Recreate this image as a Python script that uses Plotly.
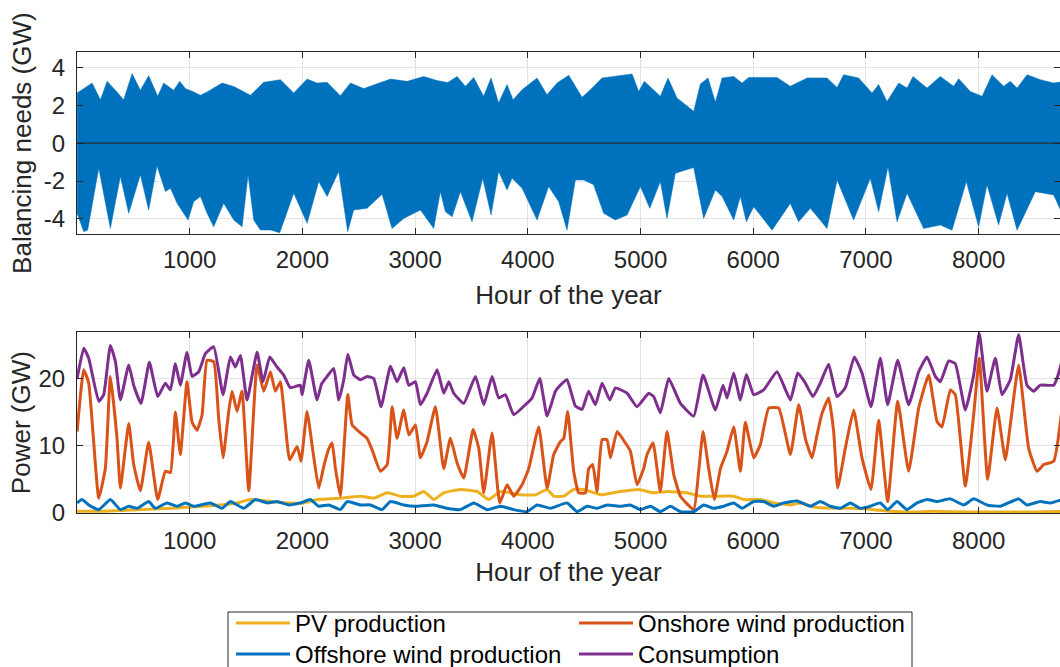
import plotly.graph_objects as go

# ---------------- Balancing needs: envelope of the hourly signal (GW) ----------------
bal_up_h = [1, 134, 208, 267, 341, 414, 489, 562, 636, 716, 769, 858, 911, 962, 1036, 1095, 1154,
            1287, 1391, 1539, 1657, 1805, 1923, 2042, 2130, 2219, 2337, 2426, 2544, 2692, 2781,
            2929, 3076, 3195, 3290, 3372, 3446, 3520, 3608, 3674, 3741, 3816, 3869, 3949, 4082,
            4170, 4259, 4363, 4481, 4555, 4659, 4762, 4925, 4984, 5034, 5176, 5244, 5324, 5472,
            5531, 5599, 5664, 5724, 5827, 5901, 5960, 6093, 6211, 6329, 6478, 6655, 6744, 6802,
            6935, 7054, 7113, 7187, 7291, 7365, 7418, 7542, 7660, 7778, 7823, 7926, 8031, 8119,
            8222, 8281, 8341, 8430, 8548, 8666, 8760]
bal_up = [2.65, 3.17, 2.29, 3.26, 2.79, 2.29, 3.67, 2.79, 3.56, 2.47, 3.17, 2.79, 3.26, 2.88, 2.70,
          2.53, 2.70, 3.17, 2.99, 2.53, 3.21, 3.35, 2.65, 3.38, 3.17, 3.21, 2.50, 3.17, 2.88, 3.17,
          3.38, 3.26, 3.52, 3.30, 3.20, 3.52, 3.00, 3.47, 2.47, 3.44, 2.12, 3.09, 2.29, 2.82, 3.44,
          2.56, 3.17, 3.58, 2.42, 2.82, 3.44, 3.52, 3.65, 2.73, 3.26, 2.47, 3.44, 2.38, 1.68, 3.12,
          3.44, 2.17, 3.44, 3.52, 3.17, 3.47, 3.47, 3.47, 3.00, 3.44, 3.44, 2.94, 3.61, 3.44, 2.65,
          3.09, 2.20, 3.17, 2.91, 3.52, 2.91, 3.52, 3.00, 3.40, 2.73, 2.47, 3.61, 3.00, 3.26, 2.91,
          3.61, 3.35, 3.17, 3.26]
bal_lo_h = [1, 60, 95, 193, 296, 385, 459, 562, 636, 710, 784, 829, 888, 985, 1036, 1095, 1154,
            1213, 1302, 1391, 1465, 1518, 1568, 1627, 1716, 1799, 1923, 2042, 2145, 2219, 2322,
            2402, 2455, 2574, 2707, 2795, 2899, 3047, 3165, 3224, 3269, 3328, 3402, 3505, 3600,
            3674, 3741, 3816, 3860, 3949, 4082, 4185, 4274, 4348, 4422, 4496, 4584, 4673, 4777,
            4881, 4999, 5082, 5176, 5235, 5309, 5472, 5560, 5664, 5724, 5827, 5886, 5939, 6004,
            6167, 6329, 6403, 6507, 6655, 6744, 6891, 7039, 7113, 7196, 7276, 7365, 7512, 7660,
            7764, 7891, 8000, 8074, 8177, 8252, 8341, 8503, 8666, 8760]
bal_lo = [-3.70, -4.67, -4.58, -1.32, -4.50, -1.76, -3.70, -1.67, -3.53, -1.20, -2.55, -2.38, -3.17,
          -4.06, -3.08, -2.82, -3.70, -4.41, -3.17, -4.06, -4.41, -1.67, -4.06, -4.58, -4.58, -4.73,
          -2.64, -4.23, -2.02, -2.82, -1.49, -4.67, -3.53, -3.44, -2.69, -4.50, -3.97, -3.53, -4.50,
          -2.56, -3.62, -3.88, -2.56, -4.15, -1.85, -3.79, -1.50, -2.47, -1.85, -2.38, -4.06, -2.29,
          -3.09, -4.59, -1.94, -1.94, -2.20, -3.70, -4.06, -3.79, -2.29, -3.44, -2.03, -3.97, -1.59,
          -1.29, -3.97, -2.47, -2.82, -4.06, -2.82, -4.15, -3.35, -4.59, -3.18, -4.15, -3.44, -4.50,
          -1.94, -4.06, -1.85, -3.62, -1.24, -4.15, -2.65, -4.50, -4.32, -4.59, -2.03, -4.41, -2.20,
          -4.32, -2.65, -4.59, -2.56, -2.73, -3.97]

# ---------------- Power time series (GW) ----------------
cons_h = [1, 60, 104, 193, 237, 296, 341, 385, 459, 503, 568, 642, 716, 784, 829, 873, 917, 976,
          1021, 1080, 1139, 1213, 1296, 1361, 1405, 1450, 1509, 1598, 1651, 1710, 1775, 1834, 1893,
          1982, 1997, 2056, 2130, 2170, 2219, 2278, 2323, 2367, 2403, 2456, 2515, 2574, 2633, 2698,
          2781, 2840, 2899, 2944, 3003, 3047, 3106, 3195, 3254, 3299, 3343, 3432, 3535, 3609, 3683,
          3742, 3801, 3875, 3979, 4038, 4106, 4171, 4245, 4289, 4348, 4422, 4481, 4540, 4600, 4659,
          4727, 4777, 4881, 4969, 5073, 5117, 5176, 5250, 5354, 5472, 5555, 5664, 5732, 5768, 5827,
          5886, 5939, 6004, 6093, 6211, 6330, 6395, 6463, 6530, 6595, 6669, 6743, 6817, 6897, 6965,
          7045, 7128, 7193, 7282, 7379, 7468, 7542, 7616, 7660, 7734, 7793, 7882, 7956, 8006, 8074,
          8148, 8207, 8281, 8355, 8429, 8488, 8547, 8666, 8695, 8760]
cons = [20.0, 24.5, 23.0, 16.6, 17.6, 24.9, 22.5, 16.8, 22.0, 19.0, 16.3, 22.4, 17.3, 19.3, 18.3,
        22.2, 19.0, 23.9, 20.3, 21.0, 23.7, 24.7, 17.6, 23.2, 21.7, 23.4, 16.8, 23.9, 19.5, 23.2,
        21.7, 20.5, 18.6, 19.0, 17.6, 22.7, 16.8, 19.2, 20.3, 21.5, 16.8, 19.8, 23.6, 20.5, 19.8,
        20.3, 20.0, 15.8, 21.8, 19.5, 21.6, 19.0, 19.5, 16.1, 17.8, 21.3, 17.8, 19.5, 17.8, 16.3,
        20.3, 16.1, 20.3, 17.1, 17.6, 14.6, 16.1, 17.1, 20.0, 14.4, 18.1, 19.0, 19.8, 15.9, 15.4,
        18.1, 16.1, 19.3, 16.8, 18.6, 17.8, 15.8, 17.8, 17.3, 14.9, 20.0, 16.3, 14.4, 20.5, 15.3,
        19.0, 17.1, 20.8, 16.8, 20.6, 17.6, 18.3, 21.0, 16.8, 20.8, 19.3, 17.3, 19.3, 22.1, 17.3,
        18.6, 23.2, 20.8, 15.8, 23.0, 16.1, 22.7, 16.1, 21.0, 23.2, 20.3, 19.5, 22.6, 22.2, 15.3,
        20.5, 26.7, 18.1, 23.0, 17.6, 19.8, 26.5, 19.0, 18.1, 19.0, 19.0, 20.0, 23.8]

onshore_h = [1, 60, 104, 193, 252, 296, 355, 385, 459, 503, 562, 636, 716, 784, 829, 873, 917, 976,
             1021, 1065, 1110, 1154, 1213, 1257, 1296, 1346, 1376, 1420, 1464, 1524, 1598, 1657,
             1716, 1760, 1805, 1887, 1953, 1988, 2041, 2094, 2145, 2189, 2233, 2264, 2293, 2337,
             2367, 2403, 2441, 2515, 2574, 2618, 2692, 2752, 2796, 2840, 2899, 2944, 3003, 3047,
             3106, 3180, 3254, 3313, 3373, 3432, 3515, 3565, 3609, 3683, 3751, 3816, 3875, 3949,
             4008, 4097, 4171, 4230, 4289, 4319, 4354, 4407, 4452, 4511, 4540, 4576, 4614, 4659,
             4703, 4733, 4792, 4866, 4910, 4969, 5028, 5058, 5111, 5176, 5235, 5295, 5354, 5472,
             5516, 5555, 5605, 5655, 5709, 5768, 5827, 5886, 5930, 6004, 6064, 6137, 6226, 6330,
             6404, 6462, 6522, 6566, 6610, 6669, 6714, 6749, 6817, 6891, 6965, 7045, 7113, 7193,
             7282, 7379, 7468, 7557, 7631, 7675, 7749, 7793, 7882, 7956, 8006, 8080, 8163, 8237,
             8281, 8355, 8444, 8518, 8577, 8666, 8760]
onshore = [12.1, 21.3, 19.3, 2.2, 6.7, 20.3, 11.1, 3.7, 13.3, 7.2, 3.3, 10.5, 2.0, 6.2, 6.0, 15.0,
           8.7, 19.5, 13.5, 12.3, 14.6, 22.7, 22.5, 14.1, 8.2, 15.1, 18.1, 15.1, 18.1, 3.3, 22.0,
           18.1, 21.0, 18.1, 19.5, 7.9, 9.9, 7.7, 15.1, 9.1, 3.7, 6.9, 9.5, 10.4, 6.6, 2.5, 9.2,
           17.6, 13.1, 11.9, 11.1, 9.4, 6.2, 7.2, 15.8, 11.1, 15.3, 11.6, 13.1, 8.2, 10.6, 15.8,
           6.6, 11.1, 7.4, 5.2, 12.4, 9.6, 3.0, 11.9, 1.5, 4.2, 2.5, 4.2, 6.6, 12.8, 3.7, 8.7,
           10.6, 11.1, 15.1, 6.2, 3.0, 3.0, 6.6, 7.2, 3.2, 10.9, 10.9, 8.2, 12.1, 10.4, 9.2, 4.2,
           6.6, 8.7, 10.4, 3.2, 12.1, 5.7, 2.5, 0.5, 6.2, 12.1, 6.6, 2.0, 6.6, 9.2, 12.8, 6.2, 13.5,
           8.2, 10.2, 15.6, 15.6, 8.7, 16.1, 11.1, 8.2, 11.6, 14.8, 17.1, 12.1, 3.7, 9.6, 15.3, 8.2,
           3.5, 13.8, 1.7, 16.6, 6.2, 15.6, 20.5, 13.6, 12.8, 18.3, 17.6, 4.0, 14.6, 23.0, 5.0, 15.6,
           7.9, 13.1, 22.0, 9.6, 6.2, 7.2, 7.7, 18.5]

offshore_h = [1, 44, 104, 193, 296, 385, 459, 533, 636, 695, 799, 888, 962, 1036, 1183, 1287, 1361,
              1479, 1583, 1687, 1775, 1878, 1982, 2071, 2144, 2233, 2337, 2397, 2515, 2604, 2707,
              2781, 2899, 3003, 3166, 3284, 3402, 3520, 3639, 3757, 3875, 3994, 4082, 4201, 4348,
              4437, 4526, 4614, 4703, 4821, 4910, 4999, 5088, 5176, 5265, 5354, 5472, 5561, 5649,
              5738, 5827, 5901, 6004, 6093, 6182, 6270, 6389, 6507, 6595, 6684, 6773, 6862, 6950,
              7039, 7128, 7193, 7276, 7364, 7453, 7542, 7631, 7749, 7867, 7956, 8074, 8192, 8355,
              8429, 8547, 8636, 8760]
offshore = [1.5, 2.0, 1.2, 0.5, 2.0, 0.5, 1.0, 0.7, 1.7, 0.7, 1.5, 1.0, 1.5, 1.0, 1.5, 0.7, 1.7,
            0.7, 2.0, 1.5, 1.7, 1.2, 1.5, 2.0, 1.0, 1.2, 0.5, 1.7, 1.2, 1.2, 0.5, 1.7, 1.2, 1.0,
            1.2, 0.7, 0.5, 1.5, 0.5, 1.0, 0.5, 0.2, 1.2, 0.7, 1.5, 0.2, 1.0, 0.7, 1.2, 1.0, 1.2,
            0.5, 1.0, 0.2, 1.0, 0.2, 0.2, 1.2, 0.7, 1.0, 1.5, 0.7, 1.7, 1.7, 1.0, 1.5, 1.8, 1.0,
            1.7, 1.0, 0.7, 1.5, 0.7, 1.0, 1.5, 0.5, 1.7, 0.5, 1.5, 2.0, 1.7, 2.1, 1.2, 2.1, 1.2,
            1.0, 2.1, 1.2, 1.7, 1.5, 2.1]

pv_h = [1, 237, 533, 829, 1124, 1420, 1539, 1716, 1864, 2012, 2130, 2248, 2337, 2515, 2633, 2752,
        2870, 2988, 3077, 3166, 3254, 3402, 3550, 3654, 3757, 3935, 4068, 4171, 4230, 4320, 4407,
        4496, 4644, 4821, 4984, 5117, 5235, 5413, 5531, 5679, 5827, 5916, 6064, 6182, 6330, 6418,
        6536, 6714, 6891, 7069, 7217, 7394, 7601, 7897, 8192, 8488, 8760]
pv = [0.25, 0.25, 0.5, 0.7, 1.0, 1.5, 2.0, 1.7, 1.5, 1.5, 2.0, 2.1, 2.2, 2.5, 2.2, 3.0, 2.5, 2.5,
      3.2, 2.0, 3.0, 3.5, 3.2, 2.0, 3.2, 2.7, 2.7, 3.5, 2.5, 2.5, 3.5, 3.5, 2.7, 3.2, 3.5, 3.0,
      3.2, 3.0, 2.5, 2.5, 2.5, 2.0, 2.0, 1.5, 1.2, 1.5, 0.9, 0.7, 0.7, 0.5, 0.25, 0.15, 0.25, 0.15,
      0.15, 0.15, 0.25]

x_ticks = [1000, 2000, 3000, 4000, 5000, 6000, 7000, 8000]
bal_ticks = [-4, -2, 0, 2, 4]
bal_ticktext = ["-4", "-2", "0", "2", "4"]
pow_ticks = [0, 10, 20]

BLUE = "#0072BD"
ORANGE = "#D95319"
YELLOW = "#EDB120"
PURPLE = "#7E2F8E"
AX = "#262626"
GRID = "#e3e3e3"
FONT = "Liberation Sans, Arial, sans-serif"

fig = go.Figure()

# top panel: filled envelope
fig.add_trace(go.Scatter(x=bal_up_h, y=bal_up, mode="lines", line=dict(width=0.5, color=BLUE),
                         fill="tozeroy", fillcolor=BLUE, showlegend=False, hoverinfo="skip",
                         xaxis="x", yaxis="y"))
fig.add_trace(go.Scatter(x=bal_lo_h, y=bal_lo, mode="lines", line=dict(width=0.5, color=BLUE),
                         fill="tozeroy", fillcolor=BLUE, showlegend=False, hoverinfo="skip",
                         xaxis="x", yaxis="y"))

# bottom panel
series = [
    ("PV production", pv_h, pv, YELLOW, "legend"),
    ("Onshore wind production", onshore_h, onshore, ORANGE, "legend"),
    ("Offshore wind production", offshore_h, offshore, BLUE, "legend2"),
    ("Consumption", cons_h, cons, PURPLE, "legend2"),
]
for name, xs, ys, col, lg in series:
    fig.add_trace(go.Scatter(x=xs, y=ys, mode="lines", name=name,
                             line=dict(color=col, width=3, shape="spline", smoothing=0.4),
                             xaxis="x2", yaxis="y2", legend=lg))

L, R, T, B = 77, 0, 52, 154
W, H = 1060, 667
ph = H - T - B


def py2paper(py):
    return (H - B - py) / ph


def px2paper(px):
    return (px - L) / (W - L - R)


axis_common = dict(
    showline=True, linecolor=AX, linewidth=1, mirror="ticks",
    ticks="inside", ticklen=6, tickcolor=AX, tickwidth=1,
    showgrid=True, gridcolor=GRID, gridwidth=1, zeroline=False,
    tickfont=dict(family=FONT, size=24, color=AX),
    automargin=False,
)

fig.update_layout(
    width=W, height=H,
    margin=dict(l=L, r=R, t=T, b=B, autoexpand=False),
    paper_bgcolor="white", plot_bgcolor="white",
    font=dict(family=FONT, color=AX),
    xaxis=dict(axis_common, domain=[0, 1], range=[0, 8722], anchor="y",
               tickvals=x_ticks, ticklabelstandoff=4,
               title=dict(text="Hour of the year", font=dict(size=26, color=AX), standoff=13)),
    yaxis=dict(axis_common, domain=[py2paper(234.3), 1.0], range=[-4.81, 4.81], anchor="x",
               tickvals=bal_ticks, ticktext=bal_ticktext, ticklabelstandoff=6,
               title=dict(text="Balancing needs (GW)", font=dict(size=26, color=AX), standoff=4)),
    xaxis2=dict(axis_common, domain=[0, 1], range=[0, 8722], anchor="y2",
                tickvals=x_ticks, ticklabelstandoff=6,
                title=dict(text="Hour of the year", font=dict(size=26, color=AX), standoff=10)),
    yaxis2=dict(axis_common, domain=[0, py2paper(332.3)], range=[0, 26.86], anchor="x2",
                tickvals=pow_ticks, ticklabelstandoff=6,
                title=dict(text="Power (GW)", font=dict(size=26, color=AX), standoff=0)),
    legend=dict(orientation="h", x=px2paper(231), xanchor="left", y=py2paper(601), yanchor="top",
                bgcolor="rgba(0,0,0,0)", borderwidth=0, itemwidth=54, entrywidth=274,
                font=dict(family=FONT, size=24, color="black"), tracegroupgap=0),
    legend2=dict(orientation="h", x=px2paper(231), xanchor="left", y=py2paper(632), yanchor="top",
                 bgcolor="rgba(0,0,0,0)", borderwidth=0, itemwidth=54, entrywidth=274,
                 font=dict(family=FONT, size=24, color="black"), tracegroupgap=0),
    shapes=[
        dict(type="line", xref="x domain", yref="y", x0=0, x1=1, y0=0, y1=0,
             line=dict(color="#1c2633", width=1.2), layer="above"),
        dict(type="rect", xref="paper", yref="paper",
             x0=px2paper(228), x1=px2paper(912), y0=py2paper(700), y1=py2paper(612),
             line=dict(color=AX, width=1), fillcolor="white", layer="below"),
    ],
)

fig.write_html("out.html")
